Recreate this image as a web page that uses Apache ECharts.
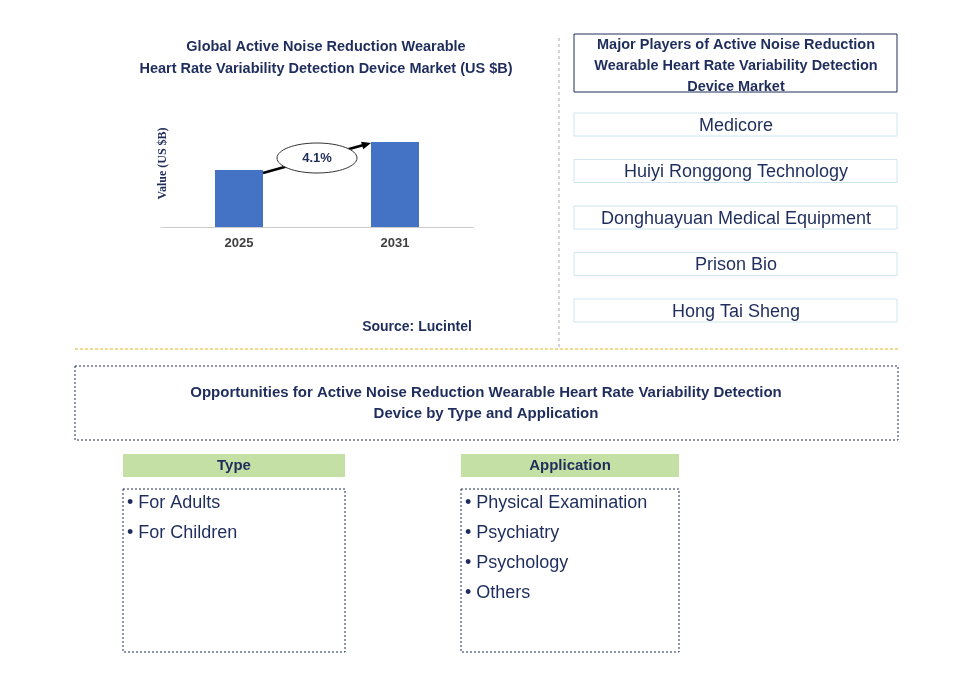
<!DOCTYPE html>
<html><head><meta charset="utf-8">
<script src="https://cdn.jsdelivr.net/npm/echarts@6/dist/echarts.min.js"></script>
<style>html,body{margin:0;padding:0;background:#fff}#c{width:962px;height:673px}</style>
</head><body><div id="c"></div>
<script>
const years = ['2025','2031'];
const values = [0.57, 0.85];
const cagr = '4.1%';
const players = ['Medicore','Huiyi Ronggong Technology','Donghuayuan Medical Equipment','Prison Bio','Hong Tai Sheng'];
const types = ['For Adults','For Children'];
const apps = ['Physical Examination','Psychiatry','Psychology','Others'];

const navy = '#1f2d5c';
const chart = echarts.init(document.getElementById('c'));
const g = [];
g.push({type:'text',style:{x:326,y:36,text:'Global Active Noise Reduction Wearable\nHeart Rate Variability Detection Device Market (US $B)',textAlign:'center',font:'bold 14.5px Arial',fill:navy,lineHeight:22}});
g.push({type:'text',style:{x:417,y:320,text:'Source: Lucintel',textAlign:'center',font:'bold 14px Arial',fill:navy}});
g.push({type:'line',shape:{x1:559,y1:38,x2:559,y2:348},style:{stroke:'#aaa',lineDash:[3,3],lineWidth:1}});
g.push({type:'line',shape:{x1:75,y1:349,x2:898,y2:349},style:{stroke:'#e6b422',lineDash:[3,2],lineWidth:1}});
g.push({type:'rect',shape:{x:574,y:34,width:323,height:58},style:{fill:'#fff',stroke:navy,lineWidth:1}});
g.push({type:'text',style:{x:736,y:34,text:'Major Players of Active Noise Reduction\nWearable Heart Rate Variability Detection\nDevice Market',textAlign:'center',font:'bold 14.5px Arial',fill:navy,lineHeight:21}});
players.forEach((p,i)=>{
  const y=113+i*46.5;
  g.push({type:'rect',shape:{x:574,y:y,width:323,height:23},style:{fill:'#fff',stroke:'#cfe6ee',lineWidth:1}});
  g.push({type:'text',style:{x:736,y:y+13,text:p,textAlign:'center',textVerticalAlign:'middle',font:'18px Arial',fill:navy}});
});
g.push({type:'rect',shape:{x:75,y:366,width:823,height:74},style:{fill:'#fff',stroke:navy,lineDash:[2,2],lineWidth:1}});
g.push({type:'text',style:{x:486,y:382,text:'Opportunities for Active Noise Reduction Wearable Heart Rate Variability Detection\nDevice by Type and Application',textAlign:'center',font:'bold 15px Arial',fill:navy,lineHeight:21}});
function col(x,w,title,items){
  g.push({type:'rect',shape:{x:x,y:454,width:w,height:23},style:{fill:'#c5e0a5'}});
  g.push({type:'text',style:{x:x+w/2,y:466,text:title,textAlign:'center',textVerticalAlign:'middle',font:'bold 15px Arial',fill:navy}});
  g.push({type:'rect',shape:{x:x,y:489,width:w,height:163},style:{fill:'#fff',stroke:navy,lineDash:[2,2],lineWidth:1}});
  items.forEach((t,i)=>g.push({type:'text',style:{x:x+4,y:503+i*30,text:'• '+t,textVerticalAlign:'middle',font:'18px Arial',fill:navy}}));
}
col(123,222,'Type',types);
col(461,218,'Application',apps);

chart.setOption({
  animation:false,
  grid:{left:161,top:100,width:312,height:127},
  xAxis:{type:'category',data:years,axisTick:{show:false},axisLine:{lineStyle:{color:'#ccc'}},axisLabel:{fontWeight:'bold',fontSize:13,color:'#404040',margin:10}},
  yAxis:{type:'value',min:0,max:1.27,show:true,name:'Value (US $B)',nameLocation:'middle',nameGap:-8,nameRotate:90,nameTextStyle:{fontWeight:'bold',fontSize:12,color:navy,fontFamily:'Times New Roman'},axisLine:{show:false},axisTick:{show:false},axisLabel:{show:false},splitLine:{show:false}},
  series:[{type:'bar',data:values,barWidth:48,itemStyle:{color:'#4472c4'}}],
  graphic:g
});
const p1=chart.convertToPixel({xAxisIndex:0,yAxisIndex:0},[0,values[0]]);
const p2=chart.convertToPixel({xAxisIndex:0,yAxisIndex:0},[1,values[1]]);
const x1=p1[0]+24,y1=p1[1]+3,x2=p2[0]-24,y2=p2[1]+1;
const mx=(x1+x2)/2,my=(y1+y2)/2;
const ang=Math.atan2(y2-y1,x2-x1);
const ah=[[x2,y2],[x2-10*Math.cos(ang-0.4),y2-10*Math.sin(ang-0.4)],[x2-10*Math.cos(ang+0.4),y2-10*Math.sin(ang+0.4)]];
chart.setOption({graphic:g.concat([
  {type:'line',shape:{x1:x1,y1:y1,x2:x2-4*Math.cos(ang),y2:y2-4*Math.sin(ang)},style:{stroke:'#000',lineWidth:2.5},z:10},
  {type:'polygon',shape:{points:ah},style:{fill:'#000'},z:10},
  {type:'ellipse',shape:{cx:mx,cy:my,rx:40,ry:15},style:{fill:'#fff',stroke:'#333',lineWidth:1},z:11},
  {type:'text',style:{x:mx,y:my,text:cagr,textAlign:'center',textVerticalAlign:'middle',font:'bold 13px Arial',fill:navy},z:12}
])});
</script></body></html>
